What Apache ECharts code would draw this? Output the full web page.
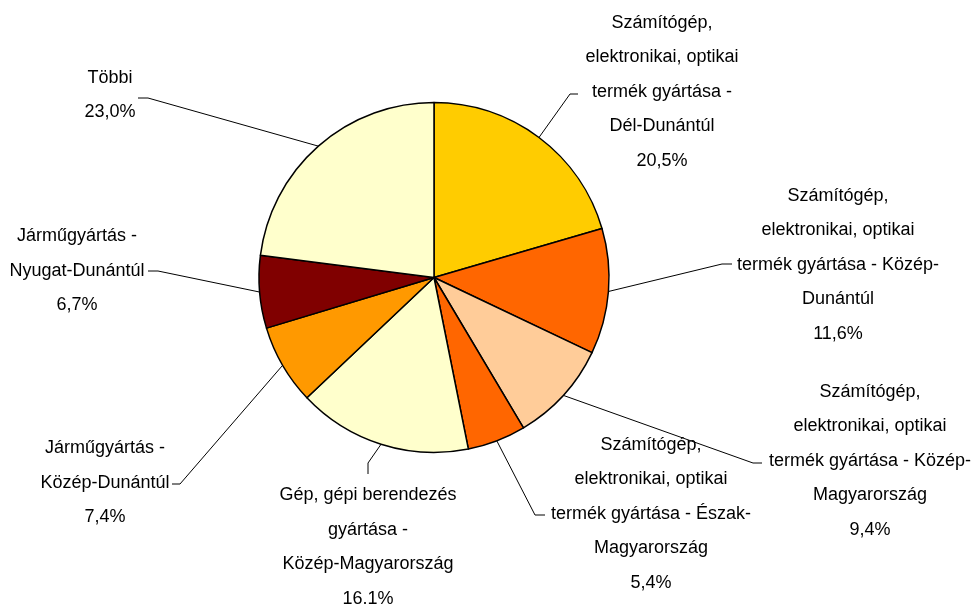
<!DOCTYPE html>
<html>
<head>
<meta charset="utf-8">
<script src="https://cdn.jsdelivr.net/npm/echarts@6/dist/echarts.min.js"></script>
<style>html,body{margin:0;padding:0;background:#fff}#c{width:977px;height:605px}</style>
</head>
<body>
<div id="c"></div>
<script>
const categories = [
  'Számítógép,\nelektronikai, optikai\ntermék gyártása -\nDél-Dunántúl',
  'Számítógép,\nelektronikai, optikai\ntermék gyártása - Közép-\nDunántúl',
  'Számítógép,\nelektronikai, optikai\ntermék gyártása - Közép-\nMagyarország',
  'Számítógép,\nelektronikai, optikai\ntermék gyártása - Észak-\nMagyarország',
  'Gép, gépi berendezés\ngyártása -\nKözép-Magyarország',
  'Járműgyártás -\nKözép-Dunántúl',
  'Járműgyártás -\nNyugat-Dunántúl',
  'Többi'
];
const values = [20.5, 11.6, 9.4, 5.4, 16.1, 7.4, 6.7, 23.0];
const valueLabels = ['20,5%', '11,6%', '9,4%', '5,4%', '16.1%', '7,4%', '6,7%', '23,0%'];
const colors = ['#FFCC00', '#FF6600', '#FFCC99', '#FF6600', '#FFFFCC', '#FF9900', '#800000', '#FFFFCC'];

// layout (label centers and leader elbows)
const CX = 434, CY = 277.5, R = 175;
const labelPos = [[662, 92], [838, 265], [870, 461], [651, 514], [368, 547], [105, 483], [77, 271], [110, 95]];
const elbows = [
  [[570, 94], [578, 94]],
  [[722, 264], [732, 264]],
  [[753, 463], [762, 463]],
  [[535, 515], [545, 515]],
  [[368, 463], [368, 474]],
  [[180, 484], [172, 484]],
  [[158, 271], [148, 271]],
  [[148, 98], [138, 98]]
];

const total = values.reduce((a, b) => a + b, 0);
const midAngles = [];
let acc = 0;
values.forEach(v => { midAngles.push((acc + v / 2) / total * 2 * Math.PI); acc += v; });

const chart = echarts.init(document.getElementById('c'), null, {renderer: 'canvas'});
chart.setOption({
  animation: false,
  backgroundColor: '#ffffff',
  series: [{
    type: 'pie',
    center: [CX, CY],
    radius: [0, R],
    startAngle: 90,
    clockwise: true,
    avoidLabelOverlap: false,
    data: values.map((v, i) => ({
      value: v, name: categories[i],
      itemStyle: {color: colors[i]}
    })),
    itemStyle: {borderColor: '#000', borderWidth: 1.5},
    emphasis: {disabled: true},
    label: {
      show: true,
      position: 'outside',
      formatter: p => p.name + '\n' + valueLabels[p.dataIndex],
      fontFamily: '"Liberation Sans", Arial, sans-serif',
      fontSize: 18,
      lineHeight: 34.5,
      color: '#000',
      align: 'center'
    },
    labelLine: {show: true, lineStyle: {color: '#000', width: 1}},
    labelLayout: function (params) {
      const i = params.dataIndex;
      const a = midAngles[i];
      const sx = CX + R * Math.sin(a), sy = CY - R * Math.cos(a);
      return {
        x: labelPos[i][0], y: labelPos[i][1],
        align: 'center', verticalAlign: 'middle',
        labelLinePoints: [[sx, sy], elbows[i][0], elbows[i][1]]
      };
    }
  }]
});
</script>
</body>
</html>
